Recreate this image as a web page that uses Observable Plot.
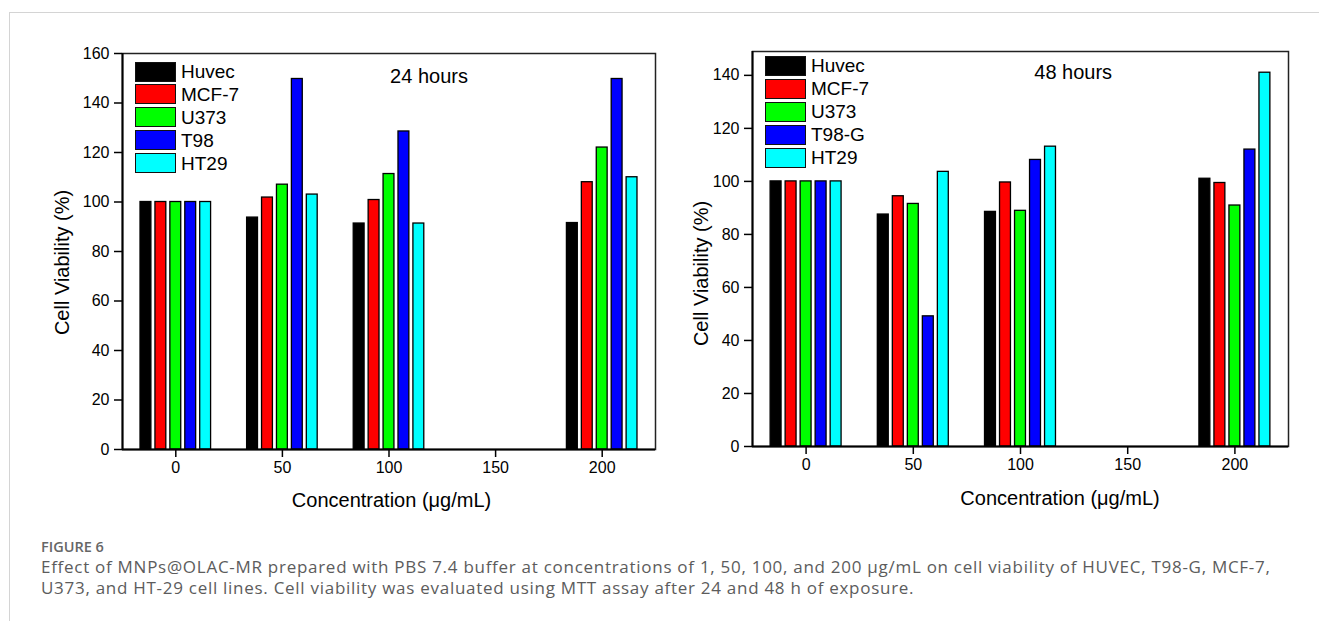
<!DOCTYPE html>
<html>
<head>
<meta charset="utf-8">
<script src="https://cdn.jsdelivr.net/npm/d3@7"></script>
<script src="https://cdn.jsdelivr.net/npm/@observablehq/plot@0.6"></script>
<style>
  html, body { margin: 0; padding: 0; background: #fff; }
  body { width: 1319px; height: 621px; overflow: hidden; position: relative; font-family: "Liberation Sans", Arial, sans-serif; }
  #border { position: absolute; left: 9px; top: 12px; right: -2px; bottom: -2px; border-top: 1px solid #d4d4d4; border-left: 1px solid #d4d4d4; }
  .panel { position: absolute; top: 0; }
  .legend { position: absolute; }
  .legend .row { position: absolute; left: 0; display: flex; align-items: center; white-space: nowrap; }
  .legend .sw { width: 39px; height: 18px; border: 1.5px solid #111; }
  .legend .lab { font-family: "Liberation Sans", Arial, sans-serif; font-size: 19px; color: #000; margin-left: 5px; line-height: 21px; }
  #caption { position: absolute; left: 41px; top: 538px; width: 1275px; font-family: "Open Sans", "Noto Sans", sans-serif; color: #5c5c5c; white-space: nowrap; }
  #caption .fig { font-size: 14.5px; line-height: 17px; font-weight: 600; color: #666; }
  #caption .txt { font-size: 17px; line-height: 21px; margin-top: 1px; letter-spacing: 0.72px; }
</style>
</head>
<body>
<div id="border"></div>
<div id="left" class="panel" style="left:0px"></div>
<div id="right" class="panel" style="left:660px"></div>
<div id="legendL" class="legend" style="left:135px; top:61px"></div>
<div id="legendR" class="legend" style="left:765px; top:55px"></div>
<div id="caption">
  <div class="fig">FIGURE 6</div>
  <div class="txt">Effect of MNPs@OLAC-MR prepared with PBS 7.4 buffer at concentrations of 1, 50, 100, and 200 μg/mL on cell viability of HUVEC, T98-G, MCF-7,<br>U373, and HT-29 cell lines. Cell viability was evaluated using MTT assay after 24 and 48 h of exposure.</div>
</div>
<script>
// ---- data ----
const concentrations = [0, 50, 100, 200];
const cellLines24 = ["Huvec", "MCF-7", "U373", "T98", "HT29"];
const cellLines48 = ["Huvec", "MCF-7", "U373", "T98-G", "HT29"];
const seriesColors = ["#000000", "#ff0000", "#00ff00", "#0000ff", "#00ffff"];

// 24 hours
const huvec24 = [100, 93.7, 91.3, 91.5];
const mcf7_24 = [100, 101.8, 100.8, 108.0];
const u373_24 = [100, 107.0, 111.3, 122.0];
const t98_24  = [100, 149.7, 128.5, 149.7];
const ht29_24 = [100, 103.0, 91.3, 110.0];

// 48 hours
const huvec48 = [100, 87.5, 88.5, 101.0];
const mcf7_48 = [100, 94.4, 99.6, 99.4];
const u373_48 = [100, 91.5, 88.9, 90.9];
const t98g_48 = [100, 49.1, 108.1, 112.0];
const ht29_48 = [100, 103.6, 113.1, 141.0];

const xTicks = [0, 50, 100, 150, 200];
const yTicks24 = [0, 20, 40, 60, 80, 100, 120, 140, 160];
const yTicks48 = [0, 20, 40, 60, 80, 100, 120, 140];

const xDomain = [-25, 225];
const yDomain24 = [0, 160];
const yDomain48 = [0, 149];

const xLabel = "Concentration (μg/mL)";
const yLabel = "Cell Viability (%)";

// ---- build tables ----
function table(lines, values) {
  const rows = [];
  lines.forEach((line, s) => {
    values[s].forEach((v, c) => rows.push({conc: concentrations[c], line, s, value: v}));
  });
  return rows;
}
const rows24 = table(cellLines24, [huvec24, mcf7_24, u373_24, t98_24, ht29_24]);
const rows48 = table(cellLines48, [huvec48, mcf7_48, u373_48, t98g_48, ht29_48]);

const GAP = 7;   // spacing between bars within a group (x units)
const BW = 5.1;  // bar width (x units)

function chart({rows, lines, yDomain, yTicks, title, width, height, margins, yl, xl, tl}) {
  return Plot.plot({
    width, height,
    marginLeft: margins[0], marginTop: margins[1], marginRight: margins[2], marginBottom: margins[3],
    style: {fontFamily: "Liberation Sans, Arial, sans-serif", fontSize: "16px", color: "#000", background: "transparent", overflow: "visible"},
    x: {domain: xDomain},
    y: {domain: yDomain},
    color: {domain: lines, range: seriesColors},
    marks: [
      Plot.frame({stroke: "#222", strokeWidth: 1.5}),
      Plot.rect(rows, {
        x1: d => d.conc + (d.s - 2) * GAP - BW / 2,
        x2: d => d.conc + (d.s - 2) * GAP + BW / 2,
        y1: 0, y2: "value",
        fill: "line", stroke: "#000", strokeWidth: 1.3
      }),
      Plot.ruleY([yDomain[0]], {stroke: "#000", strokeWidth: 2}),
      Plot.ruleX([xDomain[0]], {stroke: "#000", strokeWidth: 2}),
      Plot.axisY(yTicks, {tickSize: 8, tickPadding: 5, strokeWidth: 1.5, label: null, fontSize: 16}),
      Plot.axisX(xTicks, {tickSize: 8, tickPadding: 4, strokeWidth: 1.5, label: null, fontSize: 16}),
      Plot.text([yLabel], {text: d => d, frameAnchor: "left", rotate: -90, textAnchor: "middle", lineAnchor: "middle", dx: yl[0], dy: yl[1], fontSize: 20}),
      Plot.text([xLabel], {text: d => d, frameAnchor: "bottom", textAnchor: "middle", lineAnchor: "middle", dx: xl[0], dy: xl[1], fontSize: 20}),
      Plot.text([title], {text: d => d, frameAnchor: "top", textAnchor: "middle", lineAnchor: "middle", dx: tl[0], dy: tl[1], fontSize: 20})
    ]
  });
}

document.getElementById("left").append(chart({
  rows: rows24, lines: cellLines24, yDomain: yDomain24, yTicks: yTicks24, title: "24 hours",
  width: 660, height: 520, margins: [122, 53, 5, 71],
  yl: [-60, 11], xl: [2.5, 51], tl: [40, 23.5]
}));
document.getElementById("right").append(chart({
  rows: rows48, lines: cellLines48, yDomain: yDomain48, yTicks: yTicks48, title: "48 hours",
  width: 659, height: 520, margins: [92, 51, 31, 74],
  yl: [-51, 24.5], xl: [39.5, 52], tl: [52.7, 21.5]
}));

function legend(id, lines, pitch) {
  const el = document.getElementById(id);
  lines.forEach((line, i) => {
    const row = document.createElement("div");
    row.className = "row";
    row.style.top = (i * pitch) + "px";
    const sw = document.createElement("div");
    sw.className = "sw";
    sw.style.background = seriesColors[i];
    const lab = document.createElement("span");
    lab.className = "lab";
    lab.textContent = line;
    row.append(sw, lab);
    el.append(row);
  });
}
legend("legendL", cellLines24, 22.9);
legend("legendR", cellLines48, 23.1);
</script>
</body>
</html>
